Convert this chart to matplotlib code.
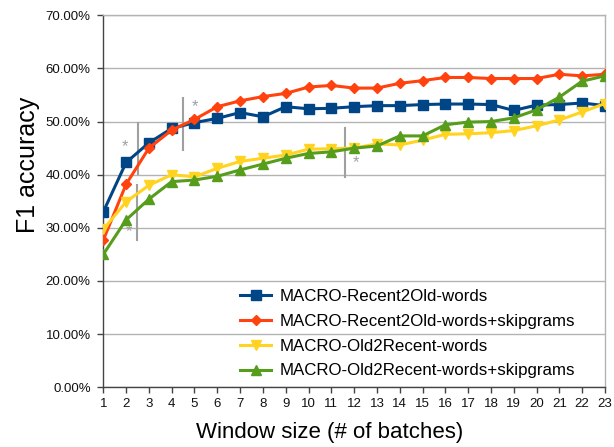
import matplotlib
matplotlib.use('Agg')
import matplotlib.pyplot as plt
from matplotlib.ticker import FuncFormatter, MultipleLocator

plt.rcParams['font.family'] = ['Liberation Sans', 'DejaVu Sans']

window = list(range(1, 24))

recent2old_words = [33.0, 42.3, 46.0, 48.7, 49.8, 50.6, 51.7, 50.9, 52.8, 52.4, 52.5, 52.8,
                    53.0, 53.0, 53.2, 53.3, 53.3, 53.2, 52.1, 53.1, 53.2, 53.5, 53.0]
recent2old_skip = [27.7, 38.2, 45.0, 48.4, 50.4, 52.8, 53.9, 54.7, 55.3, 56.5, 56.8, 56.3,
                   56.3, 57.2, 57.7, 58.3, 58.3, 58.1, 58.1, 58.1, 58.9, 58.6, 58.9]
old2recent_words = [29.7, 34.9, 38.0, 40.0, 39.6, 41.2, 42.5, 43.1, 43.7, 44.8, 44.9, 45.0,
                    45.8, 45.6, 46.5, 47.6, 47.7, 47.9, 48.3, 49.2, 50.3, 51.8, 53.4]
old2recent_skip = [25.0, 31.5, 35.4, 38.7, 39.0, 39.7, 40.9, 42.0, 43.1, 44.0, 44.3, 45.0,
                   45.4, 47.3, 47.3, 49.4, 49.9, 50.0, 50.7, 52.2, 54.6, 57.6, 58.6]

series_labels = ['MACRO-Recent2Old-words', 'MACRO-Recent2Old-words+skipgrams',
                 'MACRO-Old2Recent-words', 'MACRO-Old2Recent-words+skipgrams']

# significance markers: (x of bar, y bottom, y top, x of star, y of star)
sig_bars = [(2.53, 40.1, 49.7, 1.96, 45.3),
            (4.48, 44.7, 54.5, 5.0, 52.9),
            (11.6, 39.6, 48.7, 12.1, 42.3),
            (2.46, 27.7, 38.1, 2.14, 29.3)]

COLORS = ['#004586', '#ff420e', '#ffd320', '#579d1c']
MARKERS = ['s', 'D', 'v', '^']
MSIZES = [7.5, 5, 7, 7]
GRID = '#b3b3b3'

fig = plt.figure(figsize=(6.14, 4.47), dpi=100)
ax = fig.add_axes([0.1682, 0.1336, 0.8171, 0.8322])

data = [recent2old_words, recent2old_skip, old2recent_words, old2recent_skip]
for vals, col, mk, ms, lab in zip(data, COLORS, MARKERS, MSIZES, series_labels):
    ax.plot(window, vals, color=col, marker=mk, markersize=ms, linewidth=2.2,
            label=lab, zorder=3)

for bx, y0, y1, sx, sy in sig_bars:
    ax.plot([bx, bx], [y0, y1], color='#a0a0a0', linewidth=1.5, zorder=2)
    ax.text(sx, sy, '*', color='#a0a0a0', fontsize=12, ha='center', va='center', zorder=2)

ax.set_xlim(1, 23)
ax.set_ylim(0, 70)
ax.xaxis.set_major_locator(MultipleLocator(1))
ax.yaxis.set_major_locator(MultipleLocator(10))
ax.yaxis.set_major_formatter(FuncFormatter(lambda v, _p: f'{v:.2f}%'))
ax.grid(True, axis='y', color=GRID, linewidth=1.0, zorder=0)
ax.set_axisbelow(True)

for side in ['top', 'right']:
    ax.spines[side].set_color(GRID)
    ax.spines[side].set_linewidth(1.0)
for side in ['left', 'bottom']:
    ax.spines[side].set_color('#444444')
    ax.spines[side].set_linewidth(1.0)
ax.tick_params(axis='both', direction='out', length=4, width=1.0, color='#444444',
               labelsize=9.5, labelcolor='#111111')
ax.tick_params(axis='y', pad=5)

ax.set_xlabel('Window size (# of batches)', fontsize=16)
ax.set_ylabel('F1 accuracy', fontsize=18)
ax.xaxis.set_label_coords(0.451, -0.093)
ax.yaxis.set_label_coords(-0.126, 0.598)

ax.legend(loc='lower right', bbox_to_anchor=(0.962, -0.006), frameon=False, fontsize=12.2,
          handlelength=1.8, labelspacing=0.58, handletextpad=0.5, borderaxespad=0.25)

fig.savefig('out.png', dpi=100)
